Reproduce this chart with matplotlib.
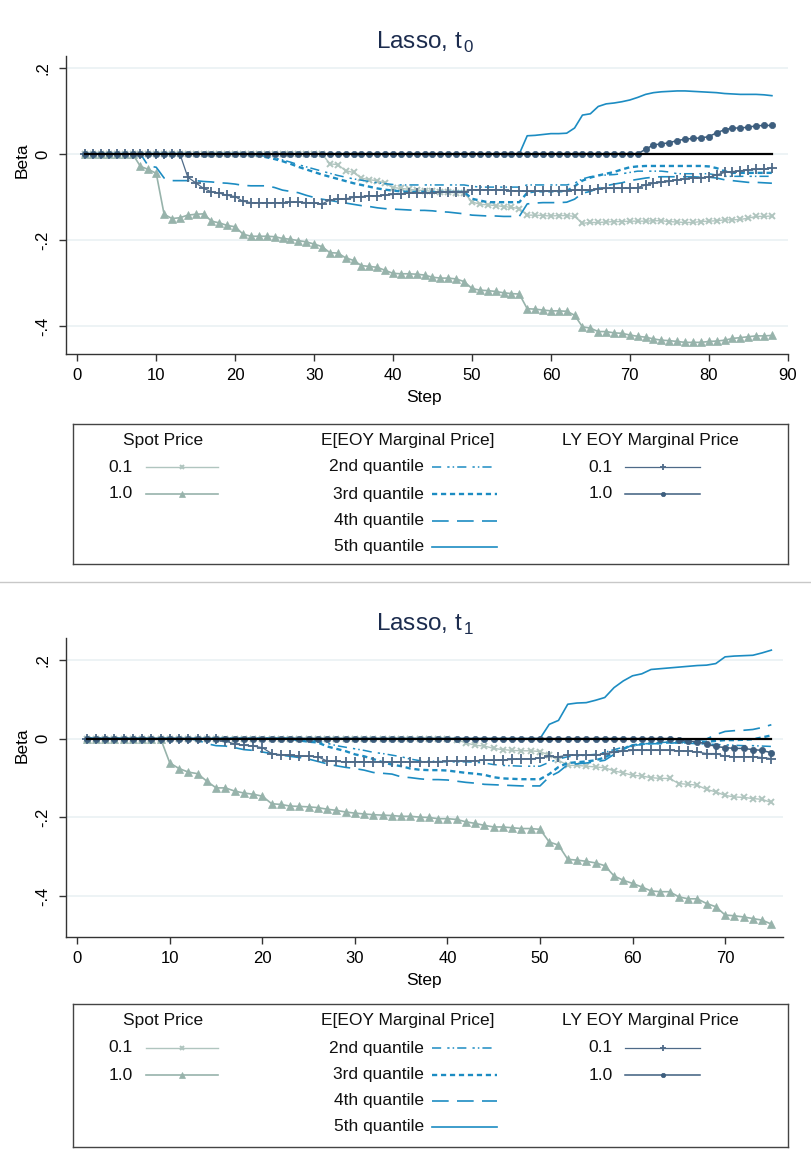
import matplotlib
matplotlib.use("Agg")
import matplotlib.pyplot as plt
import numpy as np
from matplotlib.lines import Line2D

plt.rcParams["font.family"] = ["Liberation Sans", "DejaVu Sans"]
plt.rcParams["mathtext.fontset"] = "custom"
plt.rcParams["mathtext.rm"] = "Liberation Sans"

W, H = 811, 1163

# ---- lasso path t0 (steps 1..88) ----
steps_t0 = np.arange(1, 89)

spot_01_t0 = [0.0] * 31 + [
    -0.023, -0.025, -0.039, -0.043, -0.056, -0.060, -0.062, -0.068, -0.078,
    -0.080, -0.082, -0.084, -0.085, -0.087, -0.089, -0.089, -0.090, -0.090,
    -0.111, -0.117, -0.118, -0.120, -0.122, -0.124, -0.127, -0.142, -0.142,
    -0.143, -0.144, -0.143, -0.143, -0.145, -0.161, -0.159, -0.159, -0.158,
    -0.157, -0.157, -0.156, -0.156, -0.156, -0.155, -0.155, -0.157, -0.158,
    -0.159, -0.159, -0.157, -0.156, -0.155, -0.153, -0.153, -0.152, -0.149,
    -0.145, -0.145, -0.144]

spot_10_t0 = [0.0] * 7 + [
    -0.029, -0.036, -0.045, -0.140, -0.150, -0.148, -0.142, -0.140, -0.139,
    -0.156, -0.160, -0.166, -0.169, -0.186, -0.191, -0.191, -0.191, -0.192,
    -0.196, -0.198, -0.201, -0.204, -0.209, -0.215, -0.229, -0.230, -0.241,
    -0.247, -0.259, -0.261, -0.263, -0.270, -0.277, -0.278, -0.278, -0.279,
    -0.281, -0.286, -0.288, -0.288, -0.290, -0.296, -0.312, -0.316, -0.317,
    -0.319, -0.322, -0.324, -0.325, -0.359, -0.360, -0.362, -0.364, -0.364,
    -0.365, -0.374, -0.401, -0.404, -0.412, -0.412, -0.415, -0.416, -0.420,
    -0.423, -0.425, -0.429, -0.432, -0.433, -0.435, -0.437, -0.437, -0.437,
    -0.435, -0.434, -0.432, -0.428, -0.426, -0.424, -0.422, -0.422, -0.421]

q2_t0 = [0.0] * 21 + [
    -0.001, -0.003, -0.006, -0.010, -0.014, -0.019, -0.025, -0.030, -0.035,
    -0.040, -0.045, -0.050, -0.054, -0.058, -0.061, -0.064, -0.067, -0.069,
    -0.071] + [-0.072] * 9 + [-0.075] + [-0.077] * 6 + [-0.072] * 6 + [
    -0.068, -0.058, -0.053, -0.050, -0.049, -0.048, -0.046, -0.043, -0.040,
    -0.040, -0.040, -0.040, -0.042, -0.046, -0.046, -0.046, -0.046, -0.046,
    -0.049] + [-0.052] * 7

q3_t0 = [0.0] * 21 + [
    -0.001, -0.004, -0.008, -0.012, -0.017, -0.023, -0.030, -0.036, -0.042,
    -0.048, -0.053, -0.058, -0.063, -0.068, -0.072, -0.076, -0.080, -0.083,
    -0.085, -0.087] + [-0.088] * 8 + [
    -0.104, -0.108, -0.112, -0.112, -0.112, -0.112, -0.112, -0.090, -0.087,
    -0.087, -0.087, -0.087, -0.086, -0.075, -0.062, -0.055, -0.050, -0.046,
    -0.042, -0.036, -0.031, -0.029, -0.028, -0.028, -0.028, -0.028, -0.028,
    -0.028, -0.028, -0.028, -0.029, -0.033, -0.040] + [-0.044] * 6

q4_t0 = [0.0] * 8 + [
    -0.028, -0.031, -0.056, -0.062, -0.062, -0.062, -0.062, -0.064, -0.065,
    -0.067, -0.068, -0.070, -0.073, -0.074, -0.074, -0.074, -0.078, -0.084,
    -0.087, -0.090, -0.096, -0.101, -0.105, -0.108, -0.111, -0.114, -0.117,
    -0.120, -0.122, -0.125, -0.127, -0.128, -0.129, -0.130, -0.131, -0.131,
    -0.132, -0.134, -0.135, -0.137, -0.139, -0.142, -0.143, -0.144, -0.144,
    -0.145, -0.145, -0.145, -0.116, -0.114, -0.113, -0.113, -0.113, -0.112,
    -0.105, -0.091, -0.087, -0.080, -0.074, -0.070, -0.067, -0.062, -0.059,
    -0.056, -0.054, -0.053, -0.053, -0.053, -0.053, -0.053, -0.054, -0.054,
    -0.056, -0.060, -0.062, -0.064, -0.066, -0.066, -0.067, -0.068]

q5_t0 = [0.0] * 56 + [
    0.042, 0.043, 0.045, 0.047, 0.047, 0.048, 0.060, 0.090, 0.093, 0.110,
    0.116, 0.118, 0.121, 0.125, 0.131, 0.138, 0.142, 0.144, 0.145, 0.146,
    0.146, 0.145, 0.144, 0.143, 0.142, 0.140, 0.139, 0.138, 0.138, 0.138,
    0.137, 0.135]

ly_01_t0 = [0.0] * 13 + [
    -0.054, -0.067, -0.080, -0.088, -0.091, -0.096, -0.099, -0.110, -0.113,
    -0.113, -0.113, -0.113, -0.113, -0.112, -0.112, -0.113, -0.114, -0.116,
    -0.107, -0.105, -0.104, -0.101, -0.099, -0.097, -0.097, -0.096, -0.094,
    -0.093, -0.091, -0.090, -0.090, -0.090, -0.089, -0.088, -0.088, -0.089,
    -0.083, -0.083, -0.083, -0.083, -0.084, -0.085, -0.086, -0.087, -0.087,
    -0.086, -0.086, -0.085, -0.085, -0.084, -0.084, -0.084, -0.081, -0.080,
    -0.080, -0.080, -0.080, -0.078, -0.072, -0.068, -0.066, -0.064, -0.060,
    -0.058, -0.056, -0.055, -0.054, -0.049, -0.043, -0.041, -0.039, -0.037,
    -0.036, -0.035, -0.033]

ly_10_t0 = [0.0] * 71 + [
    0.011, 0.021, 0.023, 0.026, 0.031, 0.034, 0.036, 0.037, 0.040, 0.049,
    0.056, 0.060, 0.060, 0.062, 0.065, 0.066, 0.066]

# ---- lasso path t1 (steps 1..75) ----
steps_t1 = np.arange(1, 76)

spot_01_t1 = [0.0] * 40 + [
    -0.003, -0.011, -0.017, -0.019, -0.025, -0.028, -0.030, -0.031, -0.031,
    -0.033, -0.042, -0.055, -0.068, -0.068, -0.070, -0.072, -0.074, -0.082,
    -0.087, -0.093, -0.095, -0.099, -0.101, -0.101, -0.114, -0.116, -0.118,
    -0.129, -0.135, -0.144, -0.148, -0.149, -0.152, -0.154, -0.162]

spot_10_t1 = [0.0] * 9 + [
    -0.062, -0.076, -0.085, -0.089, -0.108, -0.125, -0.125, -0.133, -0.138,
    -0.141, -0.146, -0.165, -0.167, -0.171, -0.172, -0.173, -0.175, -0.179,
    -0.182, -0.186, -0.189, -0.191, -0.193, -0.194, -0.195, -0.197, -0.197,
    -0.199, -0.200, -0.203, -0.203, -0.205, -0.211, -0.215, -0.220, -0.224,
    -0.224, -0.226, -0.228, -0.228, -0.230, -0.262, -0.270, -0.306, -0.308,
    -0.311, -0.315, -0.322, -0.348, -0.359, -0.367, -0.376, -0.386, -0.388,
    -0.388, -0.401, -0.406, -0.406, -0.418, -0.426, -0.447, -0.449, -0.452,
    -0.456, -0.460, -0.470]

q2_t1 = [0.0] * 24 + [
    -0.003, -0.007, -0.012, -0.018, -0.022, -0.026, -0.030, -0.035, -0.038,
    -0.042, -0.046, -0.052, -0.056, -0.057, -0.058, -0.059, -0.059, -0.059,
    -0.060, -0.062, -0.066, -0.068, -0.069, -0.070, -0.070, -0.070, -0.060,
    -0.052, -0.046, -0.044, -0.042, -0.040, -0.035, -0.028, -0.022, -0.018,
    -0.015, -0.012, -0.010, -0.009, -0.010, -0.012, -0.013, -0.014, -0.015,
    -0.016, -0.017, -0.018, -0.018, -0.019, -0.020]

q3_t1 = [0.0] * 23 + [
    -0.005, -0.008, -0.010, -0.020, -0.026, -0.032, -0.040, -0.045, -0.052,
    -0.060, -0.066, -0.070, -0.076, -0.079, -0.080, -0.080, -0.081, -0.084,
    -0.087, -0.089, -0.092, -0.098, -0.101, -0.102, -0.103, -0.103, -0.103,
    -0.090, -0.072, -0.062, -0.060, -0.058, -0.055, -0.048, -0.035, -0.025,
    -0.018, -0.014, -0.012, -0.011, -0.010, -0.010, -0.010, -0.009, -0.008,
    -0.006, -0.004, -0.004, -0.003, -0.002, 0.003, 0.008]

q4_t1 = [0.0] * 12 + [
    -0.004, -0.013, -0.018, -0.019, -0.023, -0.028, -0.030, -0.034, -0.038,
    -0.042, -0.045, -0.048, -0.052, -0.058, -0.064, -0.069, -0.073, -0.076,
    -0.080, -0.086, -0.088, -0.090, -0.097, -0.099, -0.102, -0.104, -0.104,
    -0.105, -0.108, -0.111, -0.113, -0.116, -0.117, -0.118, -0.119, -0.120,
    -0.120, -0.120, -0.097, -0.085, -0.066, -0.064, -0.062, -0.059, -0.055,
    -0.040, -0.028, -0.016, -0.013, -0.013, -0.013, -0.012, -0.010, -0.008,
    -0.005, -0.001, 0.010, 0.018, 0.020, 0.021, 0.023, 0.028, 0.035]

q5_t1 = [0.0] * 50 + [
    0.036, 0.046, 0.087, 0.090, 0.091, 0.097, 0.104, 0.129, 0.146, 0.159,
    0.164, 0.175, 0.177, 0.179, 0.181, 0.183, 0.185, 0.186, 0.190, 0.207,
    0.209, 0.210, 0.211, 0.217, 0.224]

ly_01_t1 = [0.0] * 15 + [
    -0.006, -0.014, -0.017, -0.019, -0.023, -0.038, -0.041, -0.042, -0.044,
    -0.045, -0.046, -0.057, -0.058] + [-0.059] * 11 + [
    -0.058, -0.057, -0.057, -0.056, -0.055, -0.055, -0.054, -0.053, -0.052,
    -0.051, -0.050, -0.045, -0.046, -0.042, -0.042, -0.042, -0.042, -0.038,
    -0.035, -0.032, -0.030, -0.030, -0.030, -0.030, -0.030, -0.031, -0.032,
    -0.034, -0.038, -0.038, -0.045, -0.046, -0.046, -0.046, -0.048, -0.051]

ly_10_t1 = [0.0] * 64 + [
    -0.004, -0.007, -0.008, -0.014, -0.020, -0.023, -0.025, -0.025, -0.028,
    -0.030, -0.036]

ytick_vals = [-0.4, -0.2, 0.0, 0.2]
ytick_text = ["-.4", "-.2", "0", ".2"]

SPOT_LIGHT = "#b0c5bf"
SPOT = "#97b3ab"
QBLUE = "#1c8cc2"
LY_LIGHT = "#4e6a88"
LY = "#3d5e7e"
TITLE_C = "#1c2c4e"
GRID_C = "#eaf1f3"

# line styles shared by plot and legend
STYLES = {
    "spot01": dict(color=SPOT_LIGHT, lw=1.0, marker="x", ms=4.5, mew=1.4),
    "spot10": dict(color=SPOT, lw=1.2, marker="^", ms=6, mew=0.5),
    "q2": dict(color=QBLUE, lw=1.1, ls=(0, (6, 4, 1.5, 2, 1, 2))),
    "q3": dict(color=QBLUE, lw=1.7, ls=(0, (2.2, 1.6))),
    "q4": dict(color=QBLUE, lw=1.2, ls=(0, (10, 5))),
    "q5": dict(color=QBLUE, lw=1.2),
    "ly01": dict(color=LY_LIGHT, lw=0.9, marker="+", ms=6.5, mew=1.3),
    "ly10": dict(color=LY, lw=1.1, marker="o", ms=4.5, mew=0.5),
}


def fx(x):
    return x / W


def fy(y):
    return 1 - y / H


def draw_panel(ax, steps, series, xlim, ylim, xticks):
    for key, vals in series:
        ax.plot(steps, vals, **STYLES[key], zorder=3)
    ax.plot([steps[0], steps[-1]], [0, 0], color="black", lw=1.6, zorder=4)

    ax.set_xlim(*xlim)
    ax.set_ylim(*ylim)
    ax.set_xticks(xticks)
    ax.set_yticks(ytick_vals)
    ax.set_yticklabels(ytick_text, rotation=90, va="center")
    ax.tick_params(axis="both", direction="out", length=5, width=1,
                   color="#333333", labelsize=12)
    ax.tick_params(axis="x", pad=5)
    ax.tick_params(axis="y", pad=6)
    for y in ytick_vals:
        ax.axhline(y, color=GRID_C, lw=1.2, zorder=1)
    for s in ["top", "right"]:
        ax.spines[s].set_visible(False)
    for s in ["left", "bottom"]:
        ax.spines[s].set_color("#333333")
        ax.spines[s].set_linewidth(1)


def draw_legend(fig, box, head_y, rows):
    x0, y0, x1, y1 = box
    lg = fig.add_axes([fx(x0), fy(y1), fx(x1 - x0), (y1 - y0) / H])
    lg.set_xlim(x0, x1)
    lg.set_ylim(y1, y0)
    lg.set_xticks([])
    lg.set_yticks([])
    for s in lg.spines.values():
        s.set_color("#444444")
        s.set_linewidth(1)

    cols = [
        (163, "Spot Price", 133, 146, 218,
         [("0.1", "spot01"), ("1.0", "spot10")]),
        (408, "E[EOY Marginal Price]", 424, 432, 497,
         [("2nd quantile", "q2"), ("3rd quantile", "q3"),
          ("4th quantile", "q4"), ("5th quantile", "q5")]),
        (650, "LY EOY Marginal Price", 613, 625, 700,
         [("0.1", "ly01"), ("1.0", "ly10")]),
    ]
    for cx, head, lab_x, l0, l1, items in cols:
        lg.text(cx, head_y, head, ha="center", va="center", fontsize=12.5,
                color="#111111")
        for (lab, key), ry in zip(items, rows):
            lg.text(lab_x, ry, lab, ha="right", va="center", fontsize=12.5,
                    color="#111111")
            st = dict(STYLES[key])
            if "marker" in st:
                lg.add_line(Line2D([l0, l1], [ry, ry], color=st["color"],
                                   lw=st["lw"]))
                lg.add_line(Line2D([(l0 + l1) / 2], [ry], ls="none",
                                   color=st["color"], marker=st["marker"],
                                   ms=st["ms"] * 0.7, mew=st["mew"]))
            else:
                lg.add_line(Line2D([l0, l1], [ry, ry], **st))


fig = plt.figure(figsize=(W / 100, H / 100), dpi=100)

# top panel
ax0 = fig.add_axes([fx(66), fy(354), fx(788 - 66), (354 - 56) / H])
draw_panel(ax0, steps_t0,
           [("spot01", spot_01_t0), ("spot10", spot_10_t0),
            ("q2", q2_t0), ("q3", q3_t0), ("q4", q4_t0), ("q5", q5_t0),
            ("ly01", ly_01_t0), ("ly10", ly_10_t0)],
           (-1.43, 90.04), (-0.464, 0.227), range(0, 91, 10))
fig.text(fx(425), fy(42), r"Lasso, t$_{\,\mathrm{0}}$", ha="center",
         va="center", fontsize=17.5, color=TITLE_C)
fig.text(fx(424), fy(398), "Step", ha="center", va="center", fontsize=12.5)
fig.text(fx(22), fy(160), "Beta", ha="center", va="center", fontsize=12.5,
         rotation=90)
draw_legend(fig, (73, 424, 788, 564), 440, [467, 494, 521, 547])

# separator between the two graphs
fig.add_artist(Line2D([0, 1], [fy(582), fy(582)], color="#c8c8c8", lw=1))

# bottom panel
ax1 = fig.add_axes([fx(66), fy(936.7), fx(783 - 66), (936.7 - 638.3) / H])
draw_panel(ax1, steps_t1,
           [("spot01", spot_01_t1), ("spot10", spot_10_t1),
            ("q2", q2_t1), ("q3", q3_t1), ("q4", q4_t1), ("q5", q5_t1),
            ("ly01", ly_01_t1), ("ly10", ly_10_t1)],
           (-1.22, 76.26), (-0.502, 0.254), range(0, 71, 10))
fig.text(fx(425), fy(624), r"Lasso, t$_{\,\mathrm{1}}$", ha="center",
         va="center", fontsize=17.5, color=TITLE_C)
fig.text(fx(424), fy(981), "Step", ha="center", va="center", fontsize=12.5)
fig.text(fx(22), fy(745), "Beta", ha="center", va="center", fontsize=12.5,
         rotation=90)
draw_legend(fig, (73, 1004, 788, 1147), 1021, [1048, 1075, 1101, 1127])

fig.savefig("out.png", dpi=100, facecolor="white")
